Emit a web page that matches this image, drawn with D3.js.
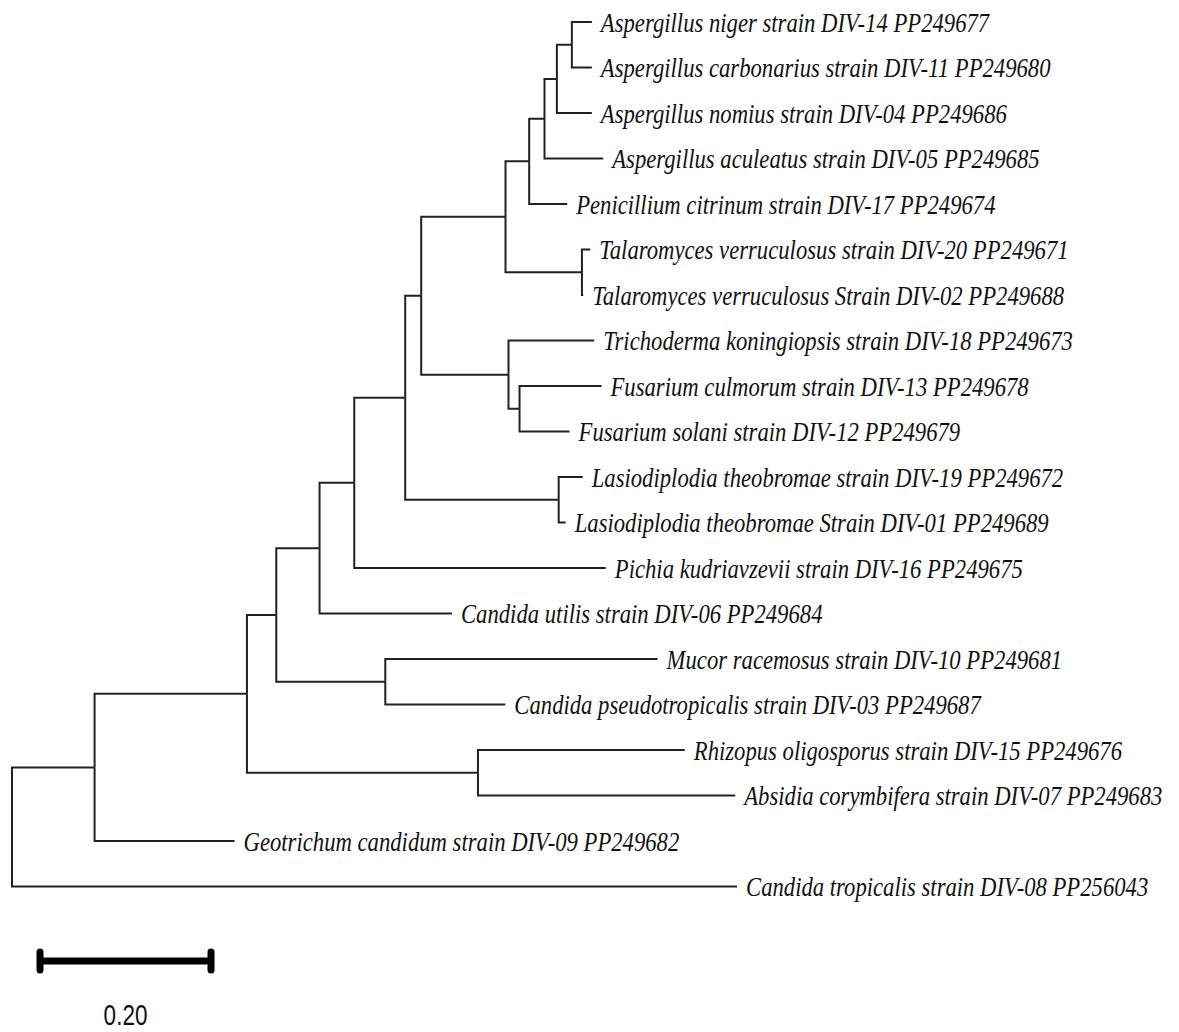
<!DOCTYPE html>
<html>
<head>
<meta charset="utf-8">
<script src="https://cdn.jsdelivr.net/npm/d3@7"></script>
<style>
  body { margin: 0; background: #fff; }
  .branch { fill: none; stroke: #222; stroke-width: 2; }
  .taxon { font-family: "Liberation Serif", "Times New Roman", serif; font-style: italic; font-size: 28px; fill: #111; }
  .scale-label { font-family: "Liberation Sans", Arial, sans-serif; font-size: 30px; fill: #111; }
</style>
</head>
<body>
<div id="tree"></div>
<script>
//---------------------- data -----------------------------------------------
// leaf labels, top to bottom
var taxa = [
  "Aspergillus niger strain DIV-14 PP249677",
  "Aspergillus carbonarius strain DIV-11 PP249680",
  "Aspergillus nomius strain DIV-04 PP249686",
  "Aspergillus aculeatus strain DIV-05 PP249685",
  "Penicillium citrinum strain DIV-17 PP249674",
  "Talaromyces verruculosus strain DIV-20 PP249671",
  "Talaromyces verruculosus Strain DIV-02 PP249688",
  "Trichoderma koningiopsis strain DIV-18 PP249673",
  "Fusarium culmorum strain DIV-13 PP249678",
  "Fusarium solani strain DIV-12 PP249679",
  "Lasiodiplodia theobromae strain DIV-19 PP249672",
  "Lasiodiplodia theobromae Strain DIV-01 PP249689",
  "Pichia kudriavzevii strain DIV-16 PP249675",
  "Candida utilis strain DIV-06 PP249684",
  "Mucor racemosus strain DIV-10 PP249681",
  "Candida pseudotropicalis strain DIV-03 PP249687",
  "Rhizopus oligosporus strain DIV-15 PP249676",
  "Absidia corymbifera strain DIV-07 PP249683",
  "Geotrichum candidum strain DIV-09 PP249682",
  "Candida tropicalis strain DIV-08 PP256043"
];

// tree topology: node id, parent id, branch length (children listed top to bottom)
// leaves are "t0".."t19" -> taxa[i]
var nodeIds = [
  "root",
  "n1", "t19",
  "n2", "t18",
  "n3", "n4",
  "t16", "t17",
  "n5", "n6",
  "t14", "t15",
  "n7", "t13",
  "n8", "t12",
  "n9", "n10",
  "t10", "t11",
  "n11", "n12",
  "t7", "n13",
  "t8", "t9",
  "n14", "n15",
  "t5", "t6",
  "n16", "t4",
  "n17", "t3",
  "n18", "t2",
  "t0", "t1"
];
var parentIds = [
  "",
  "root", "root",
  "n1", "n1",
  "n2", "n2",
  "n4", "n4",
  "n3", "n3",
  "n6", "n6",
  "n5", "n5",
  "n7", "n7",
  "n8", "n8",
  "n10", "n10",
  "n9", "n9",
  "n12", "n12",
  "n13", "n13",
  "n11", "n11",
  "n15", "n15",
  "n14", "n14",
  "n16", "n16",
  "n17", "n17",
  "n18", "n18"
];
var branchLengths = [
  0,
  0.0966, 0.8480,
  0.1782, 0.1637,
  0.0343, 0.2702,
  0.2419, 0.3009,
  0.0506, 0.1275,
  0.3185, 0.1404,
  0.0406, 0.1549,
  0.0596, 0.2942,
  0.0187, 0.1795,
  0.0281, 0.0082,
  0.0986, 0.1021,
  0.1002, 0.0129,
  0.0959, 0.0585,
  0.0277, 0.0894,
  0.0097, 0.0015,
  0.0179, 0.0444,
  0.0145, 0.0687,
  0.0175, 0.0409,
  0.0234, 0.0234
];

var scaleBarValue = 0.20;
var scaleBarText = "0.20";

//---------------------- layout ---------------------------------------------
var width = 1179, height = 1032;
var svg = d3.select("#tree").append("svg")
  .attr("width", width).attr("height", height)
  .style("display", "block");

var rows = nodeIds.map(function(id, i) {
  return { id: id, parent: parentIds[i] || null, len: branchLengths[i] };
});
var root = d3.stratify().id(function(d) { return d.id; })
  .parentId(function(d) { return d.parent; })(rows);

// leaf rows evenly spaced (45.5px), inner nodes in the middle of their children
var rowStep = 45.5;
var cluster = d3.cluster().size([taxa.length * rowStep, 1]).separation(function() { return 1; });
cluster(root);

// cumulative branch length -> x
root.each(function(d) {
  d.dist = d.parent ? d.parent.dist + d.data.len : 0;
});
var x = d3.scaleLinear().domain([0, 1]).range([12, 867]);
var y = d3.scaleLinear().domain([rowStep / 2, rowStep / 2 + 1]).range([22, 23]);

var g = svg.append("g");

g.selectAll("path.branch")
  .data(root.links())
  .enter().append("path")
  .attr("class", "branch")
  .attr("d", function(l) {
    return "M" + x(l.source.dist) + "," + y(l.source.x) +
      "V" + y(l.target.x) + "H" + x(l.target.dist);
  });

g.selectAll("text.taxon")
  .data(root.leaves())
  .enter().append("text")
  .attr("class", "taxon")
  .attr("transform", function(d) {
    return "translate(" + (x(d.dist) + 9) + "," + y(d.x) + ") scale(0.81,1)";
  })
  .attr("dy", "0.35em")
  .text(function(d) { return taxa[+d.id.slice(1)]; });

//---------------------- scale bar ------------------------------------------
var barX0 = 40, barY = 961;
var barX1 = barX0 + x(scaleBarValue) - x(0);
var bar = svg.append("g").attr("stroke", "#000").attr("stroke-width", 7)
  .attr("stroke-linecap", "round");
bar.append("line").attr("x1", barX0).attr("x2", barX1).attr("y1", barY).attr("y2", barY)
  .attr("stroke-linecap", "butt");
bar.append("line").attr("x1", barX0).attr("x2", barX0).attr("y1", barY - 9).attr("y2", barY + 9);
bar.append("line").attr("x1", barX1).attr("x2", barX1).attr("y1", barY - 9).attr("y2", barY + 9);

svg.append("text")
  .attr("class", "scale-label")
  .attr("text-anchor", "middle")
  .attr("transform", "translate(" + ((barX0 + barX1) / 2) + ",1025) scale(0.75,1)")
  .text(scaleBarText);
</script>
</body>
</html>
